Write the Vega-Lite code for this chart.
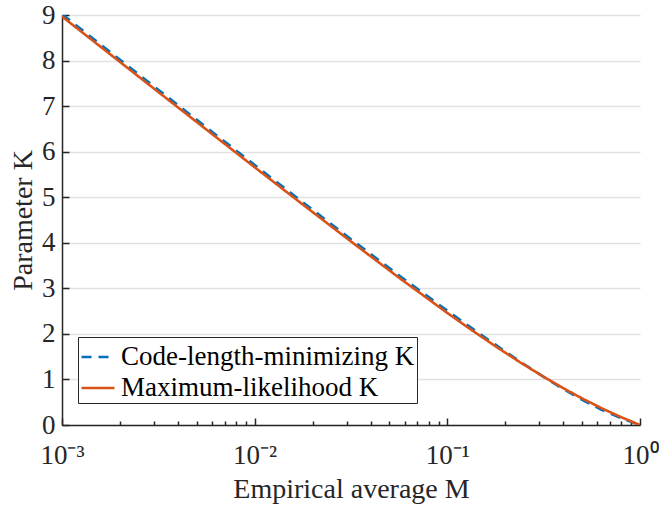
{
  "$schema": "https://vega.github.io/schema/vega-lite/v6.json",
  "width": 578,
  "height": 410,
  "autosize": {"type": "none"},
  "padding": {"left": 62, "top": 15, "right": 19, "bottom": 84},
  "background": "white",
  "config": {"view": {"stroke": null}, "font": "Liberation Serif"},
  "data": {
    "values": [
      {"M": 0.001, "K": 9.017, "series": "Code-length-minimizing K"},
      {"M": 0.001778, "K": 8.188, "series": "Code-length-minimizing K"},
      {"M": 0.003162, "K": 7.359, "series": "Code-length-minimizing K"},
      {"M": 0.005623, "K": 6.533, "series": "Code-length-minimizing K"},
      {"M": 0.01, "K": 5.708, "series": "Code-length-minimizing K"},
      {"M": 0.017783, "K": 4.889, "series": "Code-length-minimizing K"},
      {"M": 0.031623, "K": 4.078, "series": "Code-length-minimizing K"},
      {"M": 0.056234, "K": 3.281, "series": "Code-length-minimizing K"},
      {"M": 0.1, "K": 2.509, "series": "Code-length-minimizing K"},
      {"M": 0.13335, "K": 2.132, "series": "Code-length-minimizing K"},
      {"M": 0.17783, "K": 1.763, "series": "Code-length-minimizing K"},
      {"M": 0.23714, "K": 1.398, "series": "Code-length-minimizing K"},
      {"M": 0.31623, "K": 1.057, "series": "Code-length-minimizing K"},
      {"M": 0.39811, "K": 0.792, "series": "Code-length-minimizing K"},
      {"M": 0.50119, "K": 0.553, "series": "Code-length-minimizing K"},
      {"M": 0.63096, "K": 0.335, "series": "Code-length-minimizing K"},
      {"M": 0.79433, "K": 0.151, "series": "Code-length-minimizing K"},
      {"M": 1, "K": 0, "series": "Code-length-minimizing K"},
      {"M": 0.001, "K": 8.967, "series": "Maximum-likelihood K"},
      {"M": 0.001778, "K": 8.138, "series": "Maximum-likelihood K"},
      {"M": 0.003162, "K": 7.309, "series": "Maximum-likelihood K"},
      {"M": 0.005623, "K": 6.483, "series": "Maximum-likelihood K"},
      {"M": 0.01, "K": 5.658, "series": "Maximum-likelihood K"},
      {"M": 0.017783, "K": 4.839, "series": "Maximum-likelihood K"},
      {"M": 0.031623, "K": 4.028, "series": "Maximum-likelihood K"},
      {"M": 0.056234, "K": 3.231, "series": "Maximum-likelihood K"},
      {"M": 0.1, "K": 2.459, "series": "Maximum-likelihood K"},
      {"M": 0.13335, "K": 2.087, "series": "Maximum-likelihood K"},
      {"M": 0.17783, "K": 1.728, "series": "Maximum-likelihood K"},
      {"M": 0.23714, "K": 1.383, "series": "Maximum-likelihood K"},
      {"M": 0.31623, "K": 1.057, "series": "Maximum-likelihood K"},
      {"M": 0.39811, "K": 0.812, "series": "Maximum-likelihood K"},
      {"M": 0.50119, "K": 0.583, "series": "Maximum-likelihood K"},
      {"M": 0.63096, "K": 0.37, "series": "Maximum-likelihood K"},
      {"M": 0.79433, "K": 0.176, "series": "Maximum-likelihood K"},
      {"M": 1, "K": 0, "series": "Maximum-likelihood K"}
    ]
  },
  "layer": [
    {
      "mark": {"type": "line", "opacity": 0},
      "encoding": {
        "x": {
          "field": "M",
          "type": "quantitative",
          "scale": {"type": "log", "domain": [0.001, 1], "nice": false},
          "axis": {
            "orient": "bottom",
            "values": [0.002, 0.003, 0.004, 0.005, 0.006, 0.007, 0.008, 0.009, 0.02, 0.03, 0.04, 0.05, 0.06, 0.07, 0.08, 0.09, 0.2, 0.3, 0.4, 0.5, 0.6, 0.7, 0.8, 0.9],
            "labels": false,
            "domain": false,
            "grid": false,
            "title": null,
            "tickSize": -4,
            "tickWidth": 1.5,
            "tickColor": "#262626"
          }
        }
      }
    },
    {
      "mark": {"type": "line", "strokeWidth": 2.6, "clip": true},
      "encoding": {
        "x": {
          "field": "M",
          "type": "quantitative",
          "scale": {"type": "log", "domain": [0.001, 1], "nice": false},
          "axis": {
            "orient": "bottom",
            "values": [0.001, 0.01, 0.1, 1],
            "labelExpr": "datum.value < 0.005 ? '10⁻³' : datum.value < 0.05 ? '10⁻²' : datum.value < 0.5 ? '10⁻¹' : '10⁰'",
            "labelFont": "Liberation Serif",
            "labelFontSize": 27,
            "labelColor": "#262626",
            "labelFlush": false,
            "labelOverlap": false,
            "labelPadding": 24,
            "tickSize": -7,
            "tickWidth": 1.5,
            "tickColor": "#262626",
            "domainColor": "#262626",
            "domainWidth": 1.5,
            "grid": false,
            "title": "Empirical average M",
            "titleFont": "Liberation Serif",
            "titleFontSize": 28,
            "titleFontWeight": "normal",
            "titleColor": "#262626",
            "titlePadding": 7
          }
        },
        "y": {
          "field": "K",
          "type": "quantitative",
          "scale": {"domain": [0, 9], "nice": false},
          "axis": {
            "values": [0, 1, 2, 3, 4, 5, 6, 7, 8, 9],
            "labelFont": "Liberation Serif",
            "labelFontSize": 27,
            "labelColor": "#262626",
            "labelPadding": 14,
            "labelFlush": false,
            "tickSize": -7,
            "tickWidth": 1.5,
            "tickColor": "#262626",
            "domainColor": "#262626",
            "domainWidth": 1.5,
            "grid": true,
            "gridColor": "#e1e1e1",
            "gridWidth": 1.5,
            "title": "Parameter K",
            "titleFont": "Liberation Serif",
            "titleFontSize": 28,
            "titleFontWeight": "normal",
            "titleColor": "#262626",
            "titlePadding": 4
          }
        },
        "color": {
          "field": "series",
          "type": "nominal",
          "scale": {"domain": ["Code-length-minimizing K", "Maximum-likelihood K"], "range": ["#0072BD", "#D95319"]},
          "legend": {
            "title": null,
            "orient": "none",
            "legendX": 16,
            "legendY": 322,
            "labelFont": "Liberation Serif",
            "labelFontSize": 27,
            "labelColor": "#000000",
            "labelLimit": 500,
            "labelOffset": 5,
            "symbolType": "stroke",
            "symbolSize": 1089,
            "symbolStrokeWidth": 2.5,
            "strokeColor": "#262626",
            "fillColor": "white",
            "padding": 2,
            "rowPadding": 0
          }
        },
        "strokeDash": {
          "field": "series",
          "type": "nominal",
          "scale": {"domain": ["Code-length-minimizing K", "Maximum-likelihood K"], "range": [[10, 7], [1, 0]]},
          "legend": {
            "title": null,
            "orient": "none",
            "legendX": 16,
            "legendY": 322,
            "labelFont": "Liberation Serif",
            "labelFontSize": 27,
            "labelColor": "#000000",
            "labelLimit": 500,
            "labelOffset": 5,
            "symbolType": "stroke",
            "symbolSize": 1089,
            "symbolStrokeWidth": 2.5,
            "strokeColor": "#262626",
            "fillColor": "white",
            "padding": 2,
            "rowPadding": 0
          }
        }
      }
    }
  ],
  "resolve": {"axis": {"x": "independent"}}
}
